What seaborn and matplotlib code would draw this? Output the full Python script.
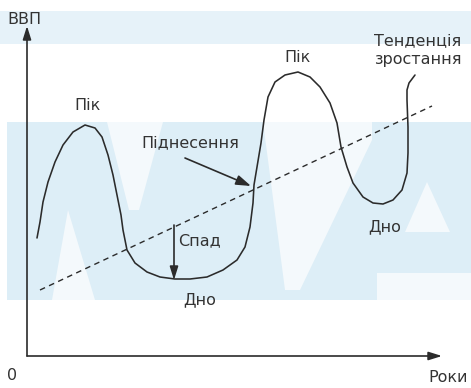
import numpy as np
import pandas as pd
import seaborn as sns
import matplotlib.pyplot as plt

# GDP curve (x = years axis, y = GDP axis, origin at the corner)
gdp_x = [10, 13, 16, 21, 28, 36, 46, 58, 68, 75, 81, 86, 90, 94, 96, 100, 108, 120,
         133, 148, 163, 180, 196, 210, 218, 223, 226, 227, 230, 234, 237, 241, 248,
         258, 271, 283, 293, 303, 310, 314, 320, 326, 336, 346, 356, 366, 375, 380,
         381, 381, 380, 380, 382, 388]
gdp_y = [118, 134, 154, 174, 194, 211, 224, 231, 228, 219, 201, 181, 161, 141, 126,
         106, 93, 84, 79, 77, 77, 79, 86, 96, 109, 129, 153, 171, 189, 213, 236, 259,
         274, 281, 284, 279, 269, 253, 233, 209, 189, 173, 159, 153, 152, 156, 166, 183,
         203, 229, 256, 266, 273, 281]

# trend line end points
trend_x = [13, 405]
trend_y = [66, 250]

ink = "#2b2b2b"
txt = "#333333"
blue = "#ddeef7"

sns.set_style("white")
plt.rcParams["font.family"] = ["DejaVu Sans"]

fig = plt.figure(figsize=(4.71, 3.88), dpi=100)
ax = fig.add_axes([0, 0, 1, 1])
ax.set_xlim(-27, 444)
ax.set_ylim(-32, 356)
ax.axis("off")

# pale background blocks
ax.axhspan(312, 345, color="#e6f2f9", lw=0, zorder=0)
ax.fill_between([-20, 444], 56, 234, color=blue, lw=0, zorder=0)
for px, py in [([25, 41, 68], [56, 146, 56]),
               ([80, 136, 112, 102], [234, 234, 146, 146]),
               ([236, 345, 345, 273, 258, 241], [234, 234, 216, 66, 66, 196]),
               ([378, 400, 423], [124, 174, 124]),
               ([350, 444, 444, 350], [56, 56, 83, 83])]:
    ax.fill(px, py, color="#f4f9fc", lw=0, zorder=0.5)

df = pd.DataFrame({"x": gdp_x, "y": gdp_y})
sns.lineplot(data=df, x="x", y="y", sort=False, estimator=None, color=ink, lw=1.15, ax=ax)
ax.lines[-1].set_solid_joinstyle("round")
ax.plot(trend_x, trend_y, color=ink, lw=1.0, dashes=(4, 3.2))

# axes with arrows
head = dict(arrowstyle="-|>,head_length=0.8,head_width=0.25", color=ink, lw=1.2,
            shrinkA=0, shrinkB=0)
ax.annotate("", xy=(0, 330), xytext=(0, 0), arrowprops=head)
ax.annotate("", xy=(415, 0), xytext=(0, 0), arrowprops=head)

# pointer arrows
ax.annotate("", xy=(147, 76), xytext=(147, 131), arrowprops=head)
ax.annotate("", xy=(224, 170), xytext=(158, 198),
            arrowprops=dict(head, arrowstyle="-|>,head_length=0.9,head_width=0.3"))

fs = 11.5
ax.text(-20, 336, "ВВП", fontsize=fs, color=txt, ha="left", va="center")
ax.text(-15, -19, "0", fontsize=fs, color=txt, ha="center", va="center")
ax.text(441, -21, "Роки", fontsize=fs, color=txt, ha="right", va="center")
ax.text(60, 251, "Пік", fontsize=fs, color=txt, ha="center", va="center")
ax.text(270, 298, "Пік", fontsize=fs, color=txt, ha="center", va="center")
ax.text(163, 213, "Піднесення", fontsize=fs, color=txt, ha="center", va="center")
ax.text(391, 306, "Тенденція\nзростання", fontsize=fs, color=txt, ha="center",
        va="center", linespacing=1.3)
ax.text(173, 56, "Дно", fontsize=fs, color=txt, ha="center", va="center")
ax.text(358, 129, "Дно", fontsize=fs, color=txt, ha="center", va="center")
ax.text(151, 115, "Спад", fontsize=fs, color=txt, ha="left", va="center")

fig.savefig("out.png", dpi=100)
